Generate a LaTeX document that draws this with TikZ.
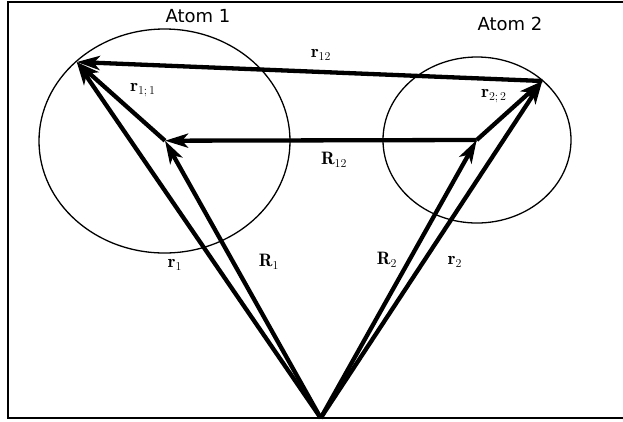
\documentclass[tikz,border=0pt]{standalone}
\usepackage{fontspec}
\newfontfamily\atomfont{DejaVu Sans}
\usetikzlibrary{arrows.meta}
\begin{document}
\begin{tikzpicture}[x=1pt,y=-1pt,
  vec/.style={line width=4.3pt, -{Stealth[length=23pt,width=14pt,inset=6pt]}},
  ring/.style={draw, line width=1.3pt},
  frame/.style={draw, line width=1.5pt},
  lab/.style={font=\fontsize{18}{22}\selectfont, inner sep=0pt},
  atom/.style={font=\atomfont\fontsize{18}{22}\selectfont, inner sep=0pt}]
\useasboundingbox (0,0) rectangle (623,421);
\clip (0,0) rectangle (623,421);
\draw[frame] (8,2) rectangle (640,418);
\draw[ring] (164.5,141) ellipse [x radius=125.5, y radius=112];
\draw[ring] (477,140) ellipse [x radius=94, y radius=83];
% points
\coordinate (O) at (320.7,418);
\coordinate (A1) at (76.7,62);
\coordinate (B1) at (165,140.7);
\coordinate (A2) at (542.3,81);
\coordinate (B2) at (476.7,140);
% vectors
\draw[vec] (O) -- (A1);
\draw[vec] (O) -- (B1);
\draw[vec] (O) -- (B2);
\draw[vec] (O) -- (A2);
\draw[vec] (B2) -- (B1);
\draw[vec] (A2) -- (A1);
\draw[vec] (B1) -- (A1);
\draw[vec] (B2) -- (A2);
% labels
\node[atom] (at1) at (198,16) {Atom 1};
\node[atom] (at2) at (510,24) {Atom 2};
\node[lab] (l12) at (321,55) {$\mathbf{r}_{12}$};
\node[lab] (l11) at (143,90) {$\mathbf{r}_{1;\,1}$};
\node[lab] (L12) at (334,160) {$\mathbf{R}_{12}$};
\node[lab] (l22) at (494,96) {$\mathbf{r}_{2;\,2}$};
\node[lab] (l1) at (175,265) {$\mathbf{r}_{1}$};
\node[lab] (L1) at (269,262) {$\mathbf{R}_{1}$};
\node[lab] (L2) at (387,260) {$\mathbf{R}_{2}$};
\node[lab] (l2) at (455,262) {$\mathbf{r}_{2}$};
\end{tikzpicture}
\end{document}
